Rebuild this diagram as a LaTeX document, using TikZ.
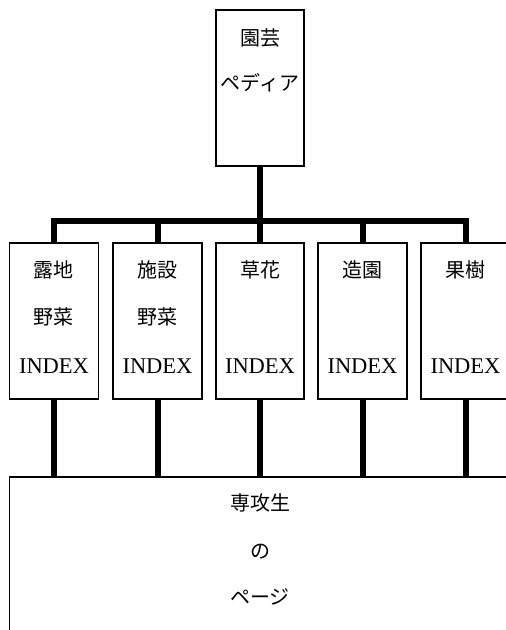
\documentclass[tikz,border=0pt]{standalone}
\usepackage{fontspec}
\setmainfont{Liberation Serif}
\newfontfamily\jp{Noto Sans CJK JP}
\begin{document}
\begin{tikzpicture}[x=1pt,y=-1pt,
  box/.style={draw=black, line width=1.5pt, minimum width=89pt, minimum height=156pt, inner sep=0pt, outer sep=0pt},
  conn/.style={line width=6pt, line join=miter},
  jtxt/.style={font=\jp\fontsize{20pt}{24pt}\selectfont, inner sep=0pt},
  etxt/.style={font=\fontsize{22.5pt}{26pt}\selectfont, inner sep=0pt}]
\useasboundingbox (0,0) rectangle (506,630);
\clip (0,0) rectangle (506,630);
% boxes
\node[box, minimum width=88pt] (top) at (260,88) {};
\node[box] (b1) at (54,321) {};
\node[box] (b2) at (157.5,321) {};
\node[box, minimum width=88pt] (b3) at (260,321) {};
\node[box] (b4) at (362.5,321) {};
\node[box] (b5) at (465.5,321) {};
\node[box, anchor=north west, minimum width=600pt, minimum height=300pt] (page) at (9.5,477) {};
% texts
\node[jtxt] (t1) at (260,38) {園芸};
\node[jtxt] (t2) at (260,83) {ペディア};
\node[jtxt] (b1a) at (54,270) {露地};
\node[jtxt] (b1b) at (54,317) {野菜};
\node[etxt] (b1c) at (54,366) {INDEX};
\node[jtxt] (b2a) at (157.5,270) {施設};
\node[jtxt] (b2b) at (157.5,317) {野菜};
\node[etxt] (b2c) at (157.5,366) {INDEX};
\node[jtxt] (b3a) at (260,270) {草花};
\node[etxt] (b3c) at (260,366) {INDEX};
\node[jtxt] (b4a) at (362.5,270) {造園};
\node[etxt] (b4c) at (362.5,366) {INDEX};
\node[jtxt] (b5a) at (465.5,270) {果樹};
\node[etxt] (b5c) at (465.5,366) {INDEX};
\node[jtxt] (p1) at (260,503) {専攻生};
\node[jtxt] (p2) at (260,552) {の};
\node[jtxt] (p3) at (260,597) {ページ};
% connectors
\coordinate (bus) at (260,220.5);
\draw[conn] (top.south) -- (bus);
\draw[conn] (b1.north) |- (bus) -| (b5.north);
\foreach \b in {b2,b3,b4}{\draw[conn] (\b.north) -- (\b.north |- bus);}
\foreach \b in {b1,b2,b3,b4,b5}{\draw[conn] (\b.south) -- (\b.south |- page.north);}
\end{tikzpicture}
\end{document}
